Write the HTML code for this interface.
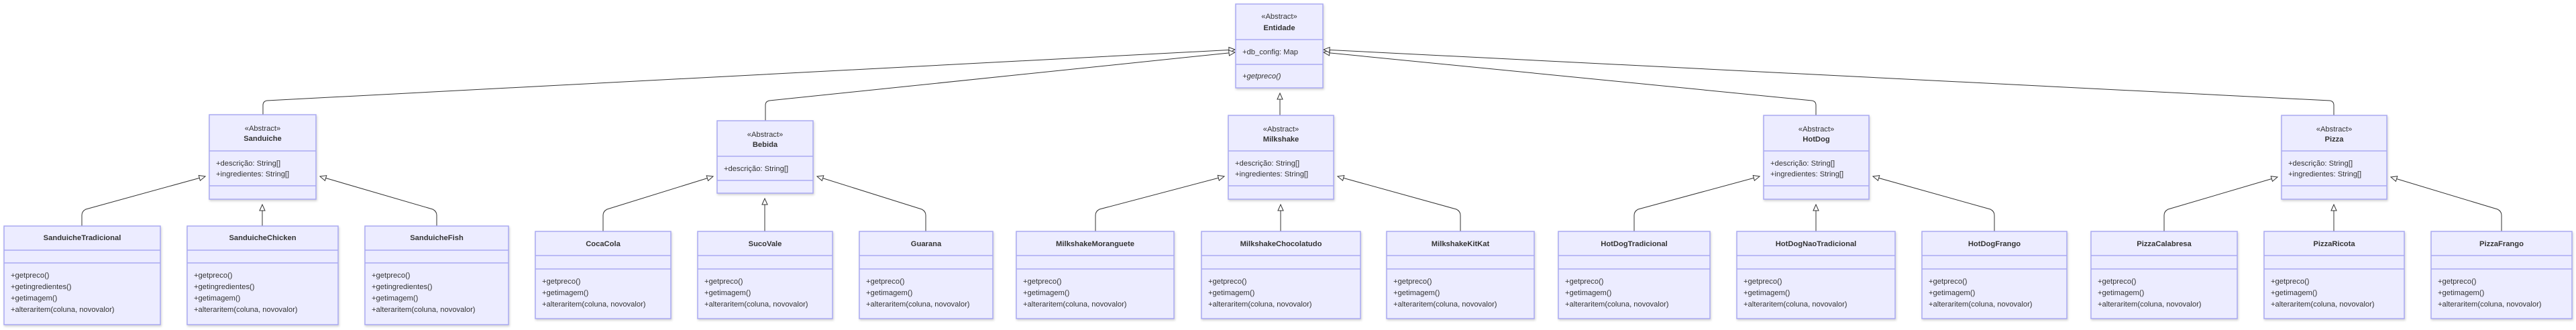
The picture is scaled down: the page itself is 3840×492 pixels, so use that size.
<!DOCTYPE html>
<html><head><meta charset="utf-8"><style>
html,body{margin:0;padding:0;background:#fff;}
svg{display:block;}
text{font-family:"Liberation Sans",Arial,sans-serif;font-size:11.2px;fill:#333;dominant-baseline:central;}
.t{font-weight:bold;text-anchor:middle;}
.c{text-anchor:middle;}
.b rect{fill:#ECECFF;stroke:#a9a9f2;stroke-width:1.5;}
.b line{stroke:#a9a9f2;stroke-width:1.5;}
.b{filter:drop-shadow(1px 2px 1.5px rgba(0,0,0,0.18));}
.e{fill:none;stroke:#333;stroke-width:1;}
</style></head><body>
<svg width="3840" height="492" viewBox="0 0 3840 492" xmlns="http://www.w3.org/2000/svg">
<defs>
<marker id="ar" markerUnits="userSpaceOnUse" markerWidth="14" markerHeight="14" refX="10" refY="5" orient="auto">
<path d="M1,1 L10,5 L1,9 z" fill="#fff" stroke="#333" stroke-width="1"/>
</marker>
</defs>

<!-- connectors to Entidade -->
<path class="e" marker-end="url(#ar)" d="M392,171 V157 Q392,151 398,150 L1841,74"/>
<path class="e" marker-end="url(#ar)" d="M1141,180 V157 Q1141,151 1147,150 L1841,78"/>
<path class="e" marker-end="url(#ar)" d="M1908,172 L1908,139"/>
<path class="e" marker-end="url(#ar)" d="M2707,172 V157 Q2707,151 2701,150 L1973,78"/>
<path class="e" marker-end="url(#ar)" d="M3479,172 V157 Q3479,151 3473,150 L1973,74"/>

<!-- child connectors -->
<path class="e" marker-end="url(#ar)" d="M122,337 V321 Q122,315 128,312 L306,263"/>
<path class="e" marker-end="url(#ar)" d="M391,337 L391,305"/>
<path class="e" marker-end="url(#ar)" d="M651,337 V321 Q651,315 645,312 L477,263"/>

<path class="e" marker-end="url(#ar)" d="M899,345 V321 Q899,315 905,312 L1063,263"/>
<path class="e" marker-end="url(#ar)" d="M1140,345 L1140,296"/>
<path class="e" marker-end="url(#ar)" d="M1380,345 V321 Q1380,315 1374,312 L1218,263"/>

<path class="e" marker-end="url(#ar)" d="M1633,345 V321 Q1633,315 1639,312 L1825,263"/>
<path class="e" marker-end="url(#ar)" d="M1909,345 L1909,305"/>
<path class="e" marker-end="url(#ar)" d="M2177,345 V321 Q2177,315 2171,312 L1994,263"/>

<path class="e" marker-end="url(#ar)" d="M2436,345 V321 Q2436,315 2442,312 L2623,263"/>
<path class="e" marker-end="url(#ar)" d="M2707,345 L2707,305"/>
<path class="e" marker-end="url(#ar)" d="M2973,345 V321 Q2973,315 2967,312 L2792,263"/>

<path class="e" marker-end="url(#ar)" d="M3226,345 V321 Q3226,315 3232,312 L3395,264"/>
<path class="e" marker-end="url(#ar)" d="M3479,345 L3479,305"/>
<path class="e" marker-end="url(#ar)" d="M3729,345 V321 Q3729,315 3723,312 L3564,264"/>

<!-- Entidade -->
<g class="b"><rect x="1842" y="6" width="130" height="125"/><line x1="1842" y1="59" x2="1972" y2="59"/><line x1="1842" y1="96" x2="1972" y2="96"/></g>
<text class="c" x="1907" y="25">«Abstract»</text><text class="t" x="1907" y="42">Entidade</text>
<text x="1852" y="78">+db_config: Map</text><text x="1852" y="114" font-style="italic">+getpreco()</text>

<!-- Sanduiche -->
<g class="b"><rect x="312" y="171" width="159" height="126"/><line x1="312" y1="225" x2="471" y2="225"/><line x1="312" y1="277" x2="471" y2="277"/></g>
<text class="c" x="391.5" y="192">«Abstract»</text><text class="t" x="391.5" y="207">Sanduiche</text>
<text x="322" y="244">+descrição: String[]</text><text x="322" y="260">+ingredientes: String[]</text>

<!-- Bebida -->
<g class="b"><rect x="1069" y="180" width="143" height="108"/><line x1="1069" y1="233" x2="1212" y2="233"/><line x1="1069" y1="269" x2="1212" y2="269"/></g>
<text class="c" x="1140.5" y="201">«Abstract»</text><text class="t" x="1140.5" y="216">Bebida</text>
<text x="1079" y="252">+descrição: String[]</text>

<!-- Milkshake -->
<g class="b"><rect x="1831" y="172" width="157" height="125"/><line x1="1831" y1="225" x2="1988" y2="225"/><line x1="1831" y1="277" x2="1988" y2="277"/></g>
<text class="c" x="1909.5" y="193">«Abstract»</text><text class="t" x="1909.5" y="208">Milkshake</text>
<text x="1841" y="244">+descrição: String[]</text><text x="1841" y="260">+ingredientes: String[]</text>

<!-- HotDog -->
<g class="b"><rect x="2629" y="172" width="157" height="125"/><line x1="2629" y1="225" x2="2786" y2="225"/><line x1="2629" y1="277" x2="2786" y2="277"/></g>
<text class="c" x="2707.5" y="193">«Abstract»</text><text class="t" x="2707.5" y="208">HotDog</text>
<text x="2639" y="244">+descrição: String[]</text><text x="2639" y="260">+ingredientes: String[]</text>

<!-- Pizza -->
<g class="b"><rect x="3401" y="172" width="157" height="125"/><line x1="3401" y1="225" x2="3558" y2="225"/><line x1="3401" y1="277" x2="3558" y2="277"/></g>
<text class="c" x="3479.5" y="193">«Abstract»</text><text class="t" x="3479.5" y="208">Pizza</text>
<text x="3411" y="244">+descrição: String[]</text><text x="3411" y="260">+ingredientes: String[]</text>

<!-- Sanduiche children -->
<g class="b"><rect x="6" y="337" width="233" height="147"/><line x1="6" y1="373" x2="239" y2="373"/><line x1="6" y1="392" x2="239" y2="392"/></g>
<text class="t" x="122.5" y="355">SanduicheTradicional</text>
<text x="16" y="411">+getpreco()</text><text x="16" y="428">+getingredientes()</text><text x="16" y="445">+getimagem()</text><text x="16" y="462">+alteraritem(coluna, novovalor)</text>

<g class="b"><rect x="279" y="337" width="225" height="147"/><line x1="279" y1="373" x2="504" y2="373"/><line x1="279" y1="392" x2="504" y2="392"/></g>
<text class="t" x="391.5" y="355">SanduicheChicken</text>
<text x="289" y="411">+getpreco()</text><text x="289" y="428">+getingredientes()</text><text x="289" y="445">+getimagem()</text><text x="289" y="462">+alteraritem(coluna, novovalor)</text>

<g class="b"><rect x="544" y="337" width="214" height="147"/><line x1="544" y1="373" x2="758" y2="373"/><line x1="544" y1="392" x2="758" y2="392"/></g>
<text class="t" x="651" y="355">SanduicheFish</text>
<text x="554" y="411">+getpreco()</text><text x="554" y="428">+getingredientes()</text><text x="554" y="445">+getimagem()</text><text x="554" y="462">+alteraritem(coluna, novovalor)</text>

<!-- Bebida children -->
<g class="b"><rect x="798" y="345" width="202" height="130"/><line x1="798" y1="381" x2="1000" y2="381"/><line x1="798" y1="401" x2="1000" y2="401"/></g>
<text class="t" x="899" y="364">CocaCola</text>
<text x="808" y="420">+getpreco()</text><text x="808" y="437">+getimagem()</text><text x="808" y="454">+alteraritem(coluna, novovalor)</text>

<g class="b"><rect x="1040" y="345" width="201" height="130"/><line x1="1040" y1="381" x2="1241" y2="381"/><line x1="1040" y1="401" x2="1241" y2="401"/></g>
<text class="t" x="1140.5" y="364">SucoVale</text>
<text x="1050" y="420">+getpreco()</text><text x="1050" y="437">+getimagem()</text><text x="1050" y="454">+alteraritem(coluna, novovalor)</text>

<g class="b"><rect x="1281" y="345" width="199" height="130"/><line x1="1281" y1="381" x2="1480" y2="381"/><line x1="1281" y1="401" x2="1480" y2="401"/></g>
<text class="t" x="1380.5" y="364">Guarana</text>
<text x="1291" y="420">+getpreco()</text><text x="1291" y="437">+getimagem()</text><text x="1291" y="454">+alteraritem(coluna, novovalor)</text>

<!-- Milkshake children -->
<g class="b"><rect x="1515" y="345" width="235" height="130"/><line x1="1515" y1="381" x2="1750" y2="381"/><line x1="1515" y1="401" x2="1750" y2="401"/></g>
<text class="t" x="1632.5" y="364">MilkshakeMoranguete</text>
<text x="1525" y="420">+getpreco()</text><text x="1525" y="437">+getimagem()</text><text x="1525" y="454">+alteraritem(coluna, novovalor)</text>

<g class="b"><rect x="1791" y="345" width="237" height="130"/><line x1="1791" y1="381" x2="2028" y2="381"/><line x1="1791" y1="401" x2="2028" y2="401"/></g>
<text class="t" x="1909.5" y="364">MilkshakeChocolatudo</text>
<text x="1801" y="420">+getpreco()</text><text x="1801" y="437">+getimagem()</text><text x="1801" y="454">+alteraritem(coluna, novovalor)</text>

<g class="b"><rect x="2067" y="345" width="220" height="130"/><line x1="2067" y1="381" x2="2287" y2="381"/><line x1="2067" y1="401" x2="2287" y2="401"/></g>
<text class="t" x="2177" y="364">MilkshakeKitKat</text>
<text x="2077" y="420">+getpreco()</text><text x="2077" y="437">+getimagem()</text><text x="2077" y="454">+alteraritem(coluna, novovalor)</text>

<!-- HotDog children -->
<g class="b"><rect x="2323" y="345" width="226" height="130"/><line x1="2323" y1="381" x2="2549" y2="381"/><line x1="2323" y1="401" x2="2549" y2="401"/></g>
<text class="t" x="2436" y="364">HotDogTradicional</text>
<text x="2333" y="420">+getpreco()</text><text x="2333" y="437">+getimagem()</text><text x="2333" y="454">+alteraritem(coluna, novovalor)</text>

<g class="b"><rect x="2589" y="345" width="236" height="130"/><line x1="2589" y1="381" x2="2825" y2="381"/><line x1="2589" y1="401" x2="2825" y2="401"/></g>
<text class="t" x="2707" y="364">HotDogNaoTradicional</text>
<text x="2599" y="420">+getpreco()</text><text x="2599" y="437">+getimagem()</text><text x="2599" y="454">+alteraritem(coluna, novovalor)</text>

<g class="b"><rect x="2865" y="345" width="216" height="130"/><line x1="2865" y1="381" x2="3081" y2="381"/><line x1="2865" y1="401" x2="3081" y2="401"/></g>
<text class="t" x="2973" y="364">HotDogFrango</text>
<text x="2875" y="420">+getpreco()</text><text x="2875" y="437">+getimagem()</text><text x="2875" y="454">+alteraritem(coluna, novovalor)</text>

<!-- Pizza children -->
<g class="b"><rect x="3117" y="345" width="218" height="130"/><line x1="3117" y1="381" x2="3335" y2="381"/><line x1="3117" y1="401" x2="3335" y2="401"/></g>
<text class="t" x="3226" y="364">PizzaCalabresa</text>
<text x="3127" y="420">+getpreco()</text><text x="3127" y="437">+getimagem()</text><text x="3127" y="454">+alteraritem(coluna, novovalor)</text>

<g class="b"><rect x="3375" y="345" width="209" height="130"/><line x1="3375" y1="381" x2="3584" y2="381"/><line x1="3375" y1="401" x2="3584" y2="401"/></g>
<text class="t" x="3479.5" y="364">PizzaRicota</text>
<text x="3385" y="420">+getpreco()</text><text x="3385" y="437">+getimagem()</text><text x="3385" y="454">+alteraritem(coluna, novovalor)</text>

<g class="b"><rect x="3624" y="345" width="210" height="130"/><line x1="3624" y1="381" x2="3834" y2="381"/><line x1="3624" y1="401" x2="3834" y2="401"/></g>
<text class="t" x="3729" y="364">PizzaFrango</text>
<text x="3634" y="420">+getpreco()</text><text x="3634" y="437">+getimagem()</text><text x="3634" y="454">+alteraritem(coluna, novovalor)</text>
</svg>
</body></html>
